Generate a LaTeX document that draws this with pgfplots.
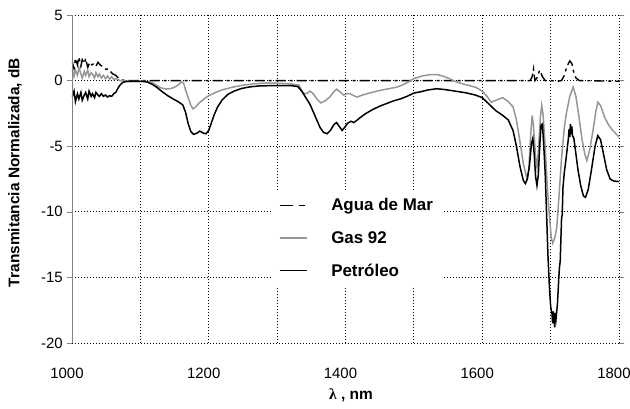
\documentclass[border=0pt]{standalone}
\usepackage{fontspec}
\setmainfont{Liberation Sans}
\newfontfamily\serifl{Liberation Serif}
\usepackage{pgfplots}
\pgfplotsset{compat=1.18}
\definecolor{gasgray}{RGB}{150,150,150}

\pgfplotstableread{
x y
1000 1.5
1003 0.9
1005 1.7
1008 1.2
1010 1.8
1013 1.1
1015 1.6
1018 1.3
1020 1.7
1023 1.0
1026 1.4
1029 1.2
1032 1.3
1035 1.1
1038 1.4
1041 1.2
1044 1.1
1047 1.0
1050 0.85
1053 0.9
1056 0.7
1060 0.5
1064 0.4
1068 0.2
1072 0.05
1080 0.0
1670 0.0
1673 0.3
1675 0.9
1677 0.0
1680 0.2
1684 0.8
1688 0.3
1692 0.0
1700 0.0
1710 -0.05
1716 0.0
1720 0.4
1724 1.1
1728 1.5
1731 1.3
1734 0.6
1737 0.2
1742 0.0
1800 -0.05
}\agua

\pgfplotstableread{
x y
1000 0.9
1003 0.3
1005 0.8
1008 0.4
1010 1.0
1013 0.5
1015 0.2
1018 0.7
1020 0.4
1023 0.8
1025 0.3
1028 0.6
1030 0.5
1033 0.2
1035 0.6
1038 0.3
1040 0.5
1043 0.2
1046 0.4
1049 0.15
1052 0.35
1055 0.1
1058 0.3
1061 0.1
1065 0.15
1070 0.0
1080 -0.05
1100 -0.05
1115 -0.1
1122 -0.3
1130 -0.55
1138 -0.65
1145 -0.6
1150 -0.5
1155 -0.35
1160 -0.1
1163 -0.15
1166 -0.7
1170 -1.3
1174 -1.9
1177 -2.15
1181 -2.0
1186 -1.7
1193 -1.4
1200 -1.15
1210 -0.9
1220 -0.7
1235 -0.5
1250 -0.35
1265 -0.25
1285 -0.18
1300 -0.2
1320 -0.25
1332 -0.35
1338 -0.95
1343 -1.0
1348 -0.8
1353 -1.0
1358 -1.4
1364 -1.7
1370 -1.55
1377 -1.25
1382 -0.9
1387 -0.65
1392 -0.85
1397 -1.1
1402 -1.0
1407 -1.0
1412 -1.15
1417 -1.25
1425 -1.1
1435 -0.95
1446 -0.8
1460 -0.65
1475 -0.5
1485 -0.3
1492 -0.1
1500 0.15
1512 0.35
1523 0.45
1535 0.45
1542 0.35
1552 0.15
1562 -0.1
1575 -0.3
1590 -0.5
1600 -0.8
1607 -1.2
1613 -1.65
1620 -1.5
1630 -1.3
1638 -1.6
1645 -2.0
1650 -3.0
1655 -4.6
1660 -6.3
1665 -7.4
1668 -6.8
1671 -4.0
1673 -2.65
1675 -3.5
1678 -5.8
1680 -6.6
1682 -5.5
1685 -2.8
1687 -1.9
1689 -2.6
1692 -5.0
1695 -8.0
1698 -10.2
1701 -12.0
1703 -12.4
1706 -12.0
1709 -11.2
1712 -9.0
1716 -5.9
1720 -3.6
1723 -2.5
1728 -1.2
1733 -0.5
1737 -1.2
1741 -2.6
1746 -4.5
1750 -5.6
1753 -6.1
1757 -5.3
1762 -3.8
1766 -2.4
1769 -1.65
1773 -1.9
1779 -2.8
1785 -3.4
1791 -3.8
1800 -4.3
}\gas

\pgfplotstableread{
x y
1000 -1.3
1003 -0.8
1005 -1.6
1008 -1.0
1010 -1.4
1013 -0.9
1015 -1.5
1018 -1.1
1020 -0.9
1023 -1.4
1025 -0.8
1028 -1.2
1030 -1.0
1033 -1.3
1035 -0.9
1038 -1.1
1040 -1.2
1043 -1.0
1046 -1.2
1049 -1.1
1052 -1.25
1055 -1.15
1058 -1.2
1061 -1.0
1064 -0.9
1067 -0.6
1070 -0.35
1074 -0.15
1078 -0.08
1085 -0.05
1100 -0.05
1110 -0.1
1118 -0.3
1125 -0.55
1132 -0.85
1140 -1.15
1148 -1.4
1155 -1.6
1162 -1.85
1166 -2.4
1170 -3.3
1174 -3.9
1178 -4.1
1183 -4.0
1187 -3.85
1192 -4.0
1196 -4.05
1200 -3.8
1204 -3.2
1208 -2.6
1213 -2.0
1220 -1.45
1228 -1.05
1237 -0.8
1248 -0.6
1260 -0.48
1275 -0.4
1300 -0.38
1320 -0.38
1330 -0.45
1336 -0.8
1342 -1.3
1348 -1.8
1353 -2.4
1358 -3.0
1363 -3.6
1368 -3.95
1373 -4.05
1378 -3.8
1383 -3.35
1387 -3.2
1391 -3.5
1395 -3.8
1399 -3.55
1403 -3.25
1408 -3.1
1412 -3.2
1416 -3.05
1422 -2.8
1430 -2.5
1440 -2.2
1450 -1.95
1460 -1.75
1470 -1.55
1480 -1.4
1490 -1.2
1500 -0.95
1510 -0.85
1520 -0.72
1533 -0.62
1545 -0.68
1560 -0.8
1575 -0.92
1590 -1.1
1600 -1.3
1610 -1.8
1620 -2.3
1630 -2.65
1638 -3.0
1645 -3.8
1650 -5.0
1655 -6.5
1660 -7.6
1663 -7.85
1666 -7.5
1669 -6.5
1672 -4.8
1674 -4.4
1676 -5.6
1678 -7.3
1680 -8.0
1682 -7.2
1684 -5.0
1686 -3.4
1688 -3.3
1690 -5.0
1692 -7.0
1694 -10.0
1696 -13.2
1698 -15.5
1700 -17.2
1702 -17.8
1703 -18.5
1704 -17.6
1705 -18.2
1706 -18.8
1707 -17.7
1708 -18.1
1710 -17.0
1712 -15.0
1713 -14.2
1714 -13.8
1716 -10.5
1717 -10.2
1718 -8.2
1720 -7.0
1722 -6.2
1724 -5.3
1726 -4.4
1727 -3.7
1728 -4.3
1729 -3.3
1730 -4.1
1731 -3.5
1732 -4.2
1734 -4.4
1737 -5.6
1740 -6.8
1744 -8.0
1748 -8.8
1751 -8.9
1755 -8.3
1760 -6.7
1765 -5.0
1769 -4.2
1773 -4.5
1777 -5.5
1782 -6.8
1787 -7.5
1792 -7.65
1800 -7.7
}\petroleo

\begin{document}
\begin{tikzpicture}
\begin{axis}[
  width=547bp, height=328bp, scale only axis,
  xmin=1000, xmax=1800, ymin=-20, ymax=5,
  xtick={1000,1200,...,1800},
  minor xtick={1100,1300,1500,1700},
  ytick={-20,-15,...,5},
  grid=both,
  major grid style={black, line width=0.9bp, dash pattern=on 0.9bp off 2.1bp},
  minor grid style={black, line width=0.9bp, dash pattern=on 0.9bp off 2.1bp},
  axis line style={draw=none},
  x tick style={draw=none},
  minor x tick style={draw=none},
  y tick style={gray, line width=0.6bp},
  tick align=outside,
  major tick length=5bp,
  minor tick length=0bp,
  tick label style={font=\fontsize{15}{17}\selectfont},
  /pgf/number format/assume math mode=true,
  /pgf/number format/set thousands separator={},
  x tick label style={anchor=center, yshift=-25bp, xshift=-5bp},
  y tick label style={anchor=east, inner sep=0pt, xshift=-4bp},
  xlabel={{\serifl λ} , nm},
  ylabel={Transmitancia Normalizada, dB},
  label style={font=\bfseries\fontsize{15.5}{17}\selectfont},
  xlabel style={at={(axis description cs:0.51,0)}, anchor=center, yshift=-52bp},
  ylabel style={at={(axis description cs:0,0.52)}, anchor=center, yshift=57bp},
  legend style={at={(0.363,0.465)}, anchor=north west, draw=none, fill=white,
    font=\bfseries\fontsize{17}{19}\selectfont, row sep=15bp,
    inner xsep=8bp, inner ysep=6bp, cells={anchor=west},
    /tikz/every odd column/.append style={column sep=22bp}},
  legend image code/.code={\draw[#1] (0bp,0bp) -- (27bp,0bp);},
]
\addplot[black, line width=1.4bp, dash pattern=on 10bp off 4bp on 3bp off 4bp,
  legend image post style={dash pattern=on 13bp off 6bp on 6bp off 20bp}] table[x=x,y=y] {\agua};
\addlegendentry{Agua de Mar}
\addplot[gasgray, line width=1.5bp] table[x=x,y=y] {\gas};
\addlegendentry{Gas 92}
\addplot[black, line width=1.5bp] table[x=x,y=y] {\petroleo};
\addlegendentry{Petróleo}
\draw[gray, line width=0.8bp] (rel axis cs:0,0) -- (rel axis cs:0,1);
\coordinate (bl) at (rel axis cs:0,0);
\coordinate (tr) at (rel axis cs:1,1);
\end{axis}
\pgfresetboundingbox
\path ([shift={(-72bp,-66bp)}]bl) rectangle ([shift={(11bp,15bp)}]tr);
\end{tikzpicture}
\end{document}
